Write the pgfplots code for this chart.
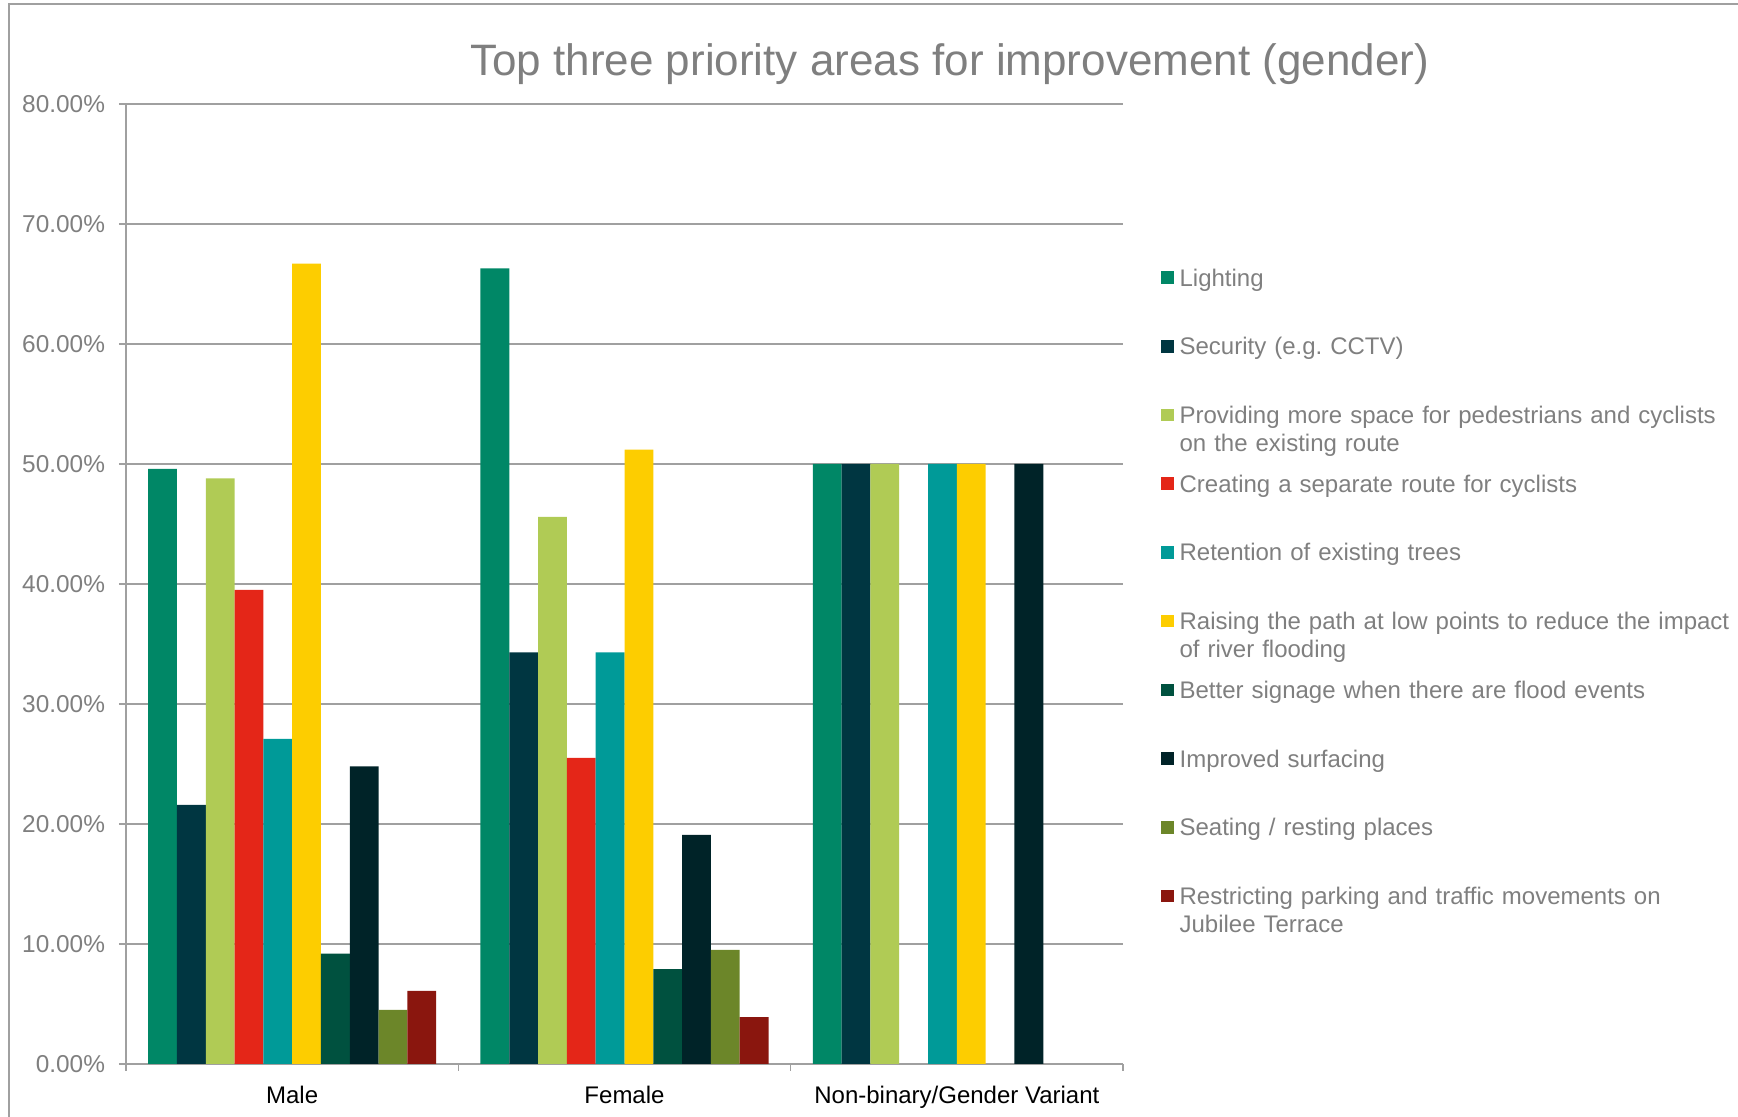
\documentclass[border=0pt]{standalone}
\usepackage{pgfplots}
\pgfplotsset{compat=1.18}
\usepackage{fontspec}
\setmainfont{Liberation Sans}
\frenchspacing
\definecolor{cLight}{HTML}{008766}
\definecolor{cSec}{HTML}{003641}
\definecolor{cProv}{HTML}{B0CB55}
\definecolor{cCreat}{HTML}{E42618}
\definecolor{cRet}{HTML}{009A98}
\definecolor{cRais}{HTML}{FDCD00}
\definecolor{cSign}{HTML}{00513F}
\definecolor{cSurf}{HTML}{002328}
\definecolor{cSeat}{HTML}{6C8629}
\definecolor{cRestr}{HTML}{8A160E}
\definecolor{txtgray}{HTML}{7F7F7F}
\definecolor{gridgray}{HTML}{A0A0A0}
\begin{document}
\begin{tikzpicture}
\useasboundingbox (0,0) rectangle (869pt,558.5pt);
\draw[color=gridgray, line width=1pt] (4.4pt,-5pt) -- (4.4pt,556.3pt) -- (880pt,556.3pt);
\node[anchor=base, text=txtgray, font=\fontsize{22}{26}\selectfont, inner sep=0pt] at (474.8pt,520.8pt) {Top three priority areas for improvement (gender)};
\begin{axis}[
  at={(63pt,26.5pt)}, anchor=south west,
  scale only axis, width=498.5pt, height=480pt,
  xmin=-0.5, xmax=2.5, ymin=0, ymax=80,
  axis lines*=left,
  axis line style={color=gridgray, line width=0.8pt},
  ybar, bar width=0.086667,
  ytick={0,10,...,80},
  yticklabel={\pgfmathprintnumber[fixed,fixed zerofill,precision=2]{\tick}\%},
  /pgf/number format/assume math mode=true,
  yticklabel style={text=txtgray, font=\fontsize{12.2}{14}\selectfont, anchor=east, inner sep=0pt, xshift=-6.8pt},
  ymajorgrids,
  grid style={color=gridgray, line width=0.8pt},
  tick align=outside,
  y tick style={color=gridgray, line width=0.8pt},
  x tick style={color=gridgray, line width=0.8pt},
  major tick length=3.5pt,
  xtick={-0.5,0.5,1.5,2.5},
  xticklabels={,,,},
  extra x ticks={0,1,2},
  extra x tick labels={Male,Female,Non-binary/Gender Variant},
  extra x tick style={major tick length=0pt, xticklabel style={anchor=base, inner sep=0pt, yshift=-19.6pt, text=black, font=\fontsize{12}{14}\selectfont}},
  legend style={at={(axis description cs:1.0383,0.8332)}, anchor=north west, draw=none, fill=none, inner sep=0pt, outer sep=0pt,
    row sep=18.35pt, column sep=0.9pt,
    cells={anchor=base west},
    nodes={text width=300pt, align=left, text height=9pt, text depth=3pt, inner sep=2pt, text=txtgray, font=\fontsize{12}{13.9}\selectfont}},
  legend image code/.code={\fill[#1] (0pt,1.1pt) rectangle (6.3pt,7.4pt);},
]
\addplot[fill=cLight, draw=none, bar shift=-0.39] coordinates {(0,49.6) (1,66.3) (2,50)};
\addlegendentry{Lighting}
\addplot[fill=cSec, draw=none, bar shift=-0.30333] coordinates {(0,21.6) (1,34.3) (2,50)};
\addlegendentry{Security (e.g. CCTV)}
\addplot[fill=cProv, draw=none, bar shift=-0.21667] coordinates {(0,48.8) (1,45.6) (2,50)};
\addlegendentry{Providing more space for pedestrians and cyclists\\on the existing route}
\addplot[fill=cCreat, draw=none, bar shift=-0.13] coordinates {(0,39.5) (1,25.5)};
\addlegendentry{Creating a separate route for cyclists}
\addplot[fill=cRet, draw=none, bar shift=-0.043333] coordinates {(0,27.1) (1,34.3) (2,50)};
\addlegendentry{Retention of existing trees}
\addplot[fill=cRais, draw=none, bar shift=0.043333] coordinates {(0,66.7) (1,51.2) (2,50)};
\addlegendentry{Raising the path at low points to reduce the impact\\of river flooding}
\addplot[fill=cSign, draw=none, bar shift=0.13] coordinates {(0,9.2) (1,7.9)};
\addlegendentry{Better signage when there are flood events}
\addplot[fill=cSurf, draw=none, bar shift=0.21667] coordinates {(0,24.8) (1,19.1) (2,50)};
\addlegendentry{Improved surfacing}
\addplot[fill=cSeat, draw=none, bar shift=0.30333] coordinates {(0,4.5) (1,9.5)};
\addlegendentry{Seating / resting places}
\addplot[fill=cRestr, draw=none, bar shift=0.39] coordinates {(0,6.1) (1,3.9)};
\addlegendentry{Restricting parking and traffic movements on\\Jubilee Terrace}
\end{axis}
\end{tikzpicture}
\end{document}
